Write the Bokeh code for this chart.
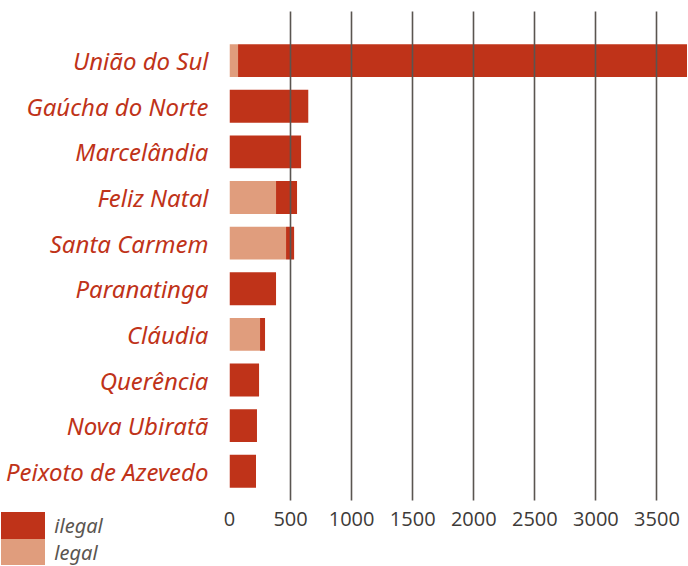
from bokeh.plotting import figure
from bokeh.layouts import column
from bokeh.models import ColumnDataSource, FixedTicker, Range1d, Legend, LegendItem
from bokeh.embed import file_html
from bokeh.resources import INLINE

municipios = ["União do Sul", "Gaúcha do Norte", "Marcelândia", "Feliz Natal",
              "Santa Carmem", "Paranatinga", "Cláudia", "Querência",
              "Nova Ubiratã", "Peixoto de Azevedo"]
legal = [70, 0, 0, 381, 463, 0, 250, 0, 0, 0]
ilegal = [3930, 645, 586, 172, 66, 381, 41, 242, 225, 217]
x_ticks = [0, 500, 1000, 1500, 2000, 2500, 3000, 3500]
series = ["ilegal", "legal"]

DARK = "#bf3319"
LIGHT = "#e09d7d"

n = len(municipios)
ypos = [n - 1 - i for i in range(n)]
total = [a + b for a, b in zip(legal, ilegal)]
src = ColumnDataSource(dict(y=ypos, name=municipios, legal=legal, ilegal=ilegal, total=total))

p = figure(width=687, height=558, output_backend="svg", toolbar_location=None,
           x_range=Range1d(0, 3750), y_range=Range1d(-0.64, n - 1 + 1.075),
           min_border_left=229, min_border_right=0, min_border_top=11, min_border_bottom=58)
p.outline_line_color = None

p.hbar(y="y", left=0, right="legal", height=0.72, source=src,
       fill_color=LIGHT, line_color=None)
p.hbar(y="y", left="legal", right="total", height=0.72, source=src,
       fill_color=DARK, line_color=None)

p.ygrid.grid_line_color = None
p.xgrid.ticker = FixedTicker(ticks=x_ticks)
p.xgrid.grid_line_color = "#5a5550"
p.xgrid.grid_line_width = 1.6
p.xgrid.level = "overlay"

p.xaxis.ticker = FixedTicker(ticks=x_ticks)
p.xaxis.axis_line_color = None
p.xaxis.major_tick_line_color = None
p.xaxis.minor_tick_line_color = None
p.xaxis.major_label_text_font = "Open Sans"
p.xaxis.major_label_text_font_size = "20px"
p.xaxis.major_label_text_color = "#3d3a38"
p.xaxis.major_label_standoff = 5

p.yaxis.ticker = FixedTicker(ticks=ypos)
p.yaxis.major_label_overrides = {y: nm for y, nm in zip(ypos, municipios)}
p.yaxis.axis_line_color = None
p.yaxis.major_tick_line_color = None
p.yaxis.minor_tick_line_color = None
p.yaxis.major_label_text_font = "Noto Sans"
p.yaxis.major_label_text_font_style = "italic"
p.yaxis.major_label_text_font_size = "24px"
p.yaxis.major_label_text_color = DARK
p.yaxis.major_label_standoff = 15

# legend in a small figure that overlaps the bottom-left corner
leg = figure(width=130, height=57, output_backend="svg", toolbar_location=None,
             x_axis_location=None, y_axis_location=None,
             x_range=Range1d(0, 1), y_range=Range1d(0, 1),
             min_border=0, min_border_left=0, min_border_right=0,
             min_border_top=0, min_border_bottom=0,
             background_fill_alpha=0, border_fill_alpha=0)
leg.outline_line_color = None
leg.xgrid.grid_line_color = None
leg.ygrid.grid_line_color = None
colors = {"ilegal": DARK, "legal": LIGHT}
locations = {"ilegal": "top_left", "legal": (0, -4)}
for s in series:
    # zero-width helper bar: only its swatch is shown in the legend
    r = leg.hbar(y=[0], left=[0], right=[0], height=0,
                 fill_color=colors[s], line_color=None)
    lg = Legend(items=[LegendItem(label=s, renderers=[r])], location=locations[s],
                glyph_width=55, glyph_height=34,
                spacing=0, padding=0, margin=0, label_standoff=4,
                label_text_font="Noto Sans", label_text_font_style="italic",
                label_text_font_size="20px", label_text_color="#5a5550",
                background_fill_alpha=0, border_line_color=None,
                label_height=34)
    leg.add_layout(lg, "center")
leg.margin = (-50, 0, 0, -15)

layout = column(p, leg, spacing=0)
layout.margin = 0

open("out.html", "w").write(file_html(layout, INLINE))
